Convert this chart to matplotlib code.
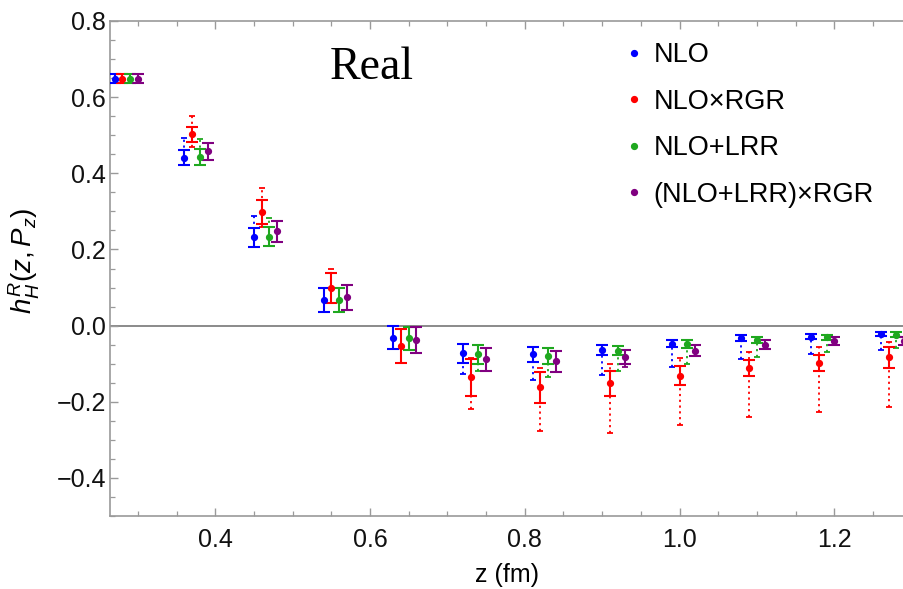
import numpy as np
import matplotlib
matplotlib.use("Agg")
import matplotlib.pyplot as plt
from matplotlib.lines import Line2D
from matplotlib.ticker import MultipleLocator, FuncFormatter

plt.rcParams["font.family"] = ["Liberation Sans", "DejaVu Sans"]
plt.rcParams["mathtext.fontset"] = "custom"
plt.rcParams["mathtext.it"] = "Liberation Sans:italic"
plt.rcParams["mathtext.rm"] = "Liberation Sans"

# separations z (fm); each series is shifted slightly to the right
z_base = np.array([0.27, 0.36, 0.45, 0.54, 0.63, 0.72, 0.81, 0.90, 0.99, 1.08, 1.17, 1.26])
shift = [0.0, 0.01, 0.02, 0.03]

labels = ["NLO", "NLO×RGR", "NLO+LRR", "(NLO+LRR)×RGR"]
colors = ["#0000ff", "#ff0000", "#1fa81f", "#800080"]

# central values
nlo_val = [0.648, 0.441, 0.232, 0.068, -0.032, -0.073, -0.075, -0.064, -0.048, -0.033, -0.029, -0.022]
rgr_val = [0.648, 0.502, 0.298, 0.099, -0.053, -0.136, -0.162, -0.152, -0.132, -0.111, -0.097, -0.083]
lrr_val = [0.648, 0.443, 0.234, 0.068, -0.033, -0.075, -0.079, -0.066, -0.048, -0.038, -0.031, -0.024]
both_val = [0.648, 0.458, 0.248, 0.074, -0.038, -0.088, -0.094, -0.082, -0.066, -0.050, -0.041, -0.040]

# statistical errors (solid bars)
nlo_err = [0.012, 0.020, 0.025, 0.032, 0.030, 0.024, 0.020, 0.013, 0.009, 0.008, 0.006, 0.006]
rgr_err = [0.012, 0.020, 0.032, 0.040, 0.045, 0.048, 0.041, 0.033, 0.025, 0.021, 0.021, 0.027]
lrr_err = [0.012, 0.020, 0.025, 0.031, 0.030, 0.025, 0.021, 0.012, 0.010, 0.007, 0.006, 0.006]
both_err = [0.012, 0.022, 0.028, 0.033, 0.034, 0.030, 0.028, 0.018, 0.015, 0.012, 0.011, 0.010]

# systematic band ends (dotted bars): lower and upper limits
nlo_lo = [0.636, 0.421, 0.207, 0.036, -0.062, -0.126, -0.142, -0.129, -0.108, -0.088, -0.075, -0.063]
nlo_hi = [0.660, 0.493, 0.289, 0.100, -0.002, -0.049, -0.055, -0.051, -0.039, -0.025, -0.023, -0.016]
rgr_lo = [0.636, 0.469, 0.260, 0.059, -0.098, -0.219, -0.276, -0.281, -0.261, -0.241, -0.226, -0.215]
rgr_hi = [0.660, 0.550, 0.362, 0.149, -0.008, -0.085, -0.110, -0.101, -0.086, -0.068, -0.055, -0.044]
lrr_lo = [0.636, 0.423, 0.209, 0.037, -0.063, -0.120, -0.134, -0.120, -0.101, -0.083, -0.068, -0.059]
lrr_hi = [0.660, 0.489, 0.283, 0.099, -0.003, -0.050, -0.058, -0.054, -0.038, -0.031, -0.025, -0.018]
both_lo = [0.636, 0.436, 0.220, 0.041, -0.072, -0.118, -0.122, -0.109, -0.081, -0.062, -0.052, -0.050]
both_hi = [0.660, 0.480, 0.276, 0.107, -0.004, -0.058, -0.066, -0.064, -0.051, -0.038, -0.030, -0.030]

series = [
    (nlo_val, nlo_err, nlo_lo, nlo_hi),
    (rgr_val, rgr_err, rgr_lo, rgr_hi),
    (lrr_val, lrr_err, lrr_lo, lrr_hi),
    (both_val, both_err, both_lo, both_hi),
]

W, H = 904, 589
fig = plt.figure(figsize=(W / 100, H / 100), dpi=100)
ax = fig.add_axes([110 / W, 1 - 516 / H, (W - 110) / W, (516 - 21) / H])

ax.axhline(0.0, color="#8a8a8a", lw=1.4, zorder=1)

for k, (val, err, lo, hi) in enumerate(series):
    x = z_base + shift[k]
    v = np.array(val)
    yerr_sys = [v - np.array(lo), np.array(hi) - v]
    eb = ax.errorbar(x, v, yerr=yerr_sys, fmt="none", ecolor=colors[k],
                     elinewidth=1.3, capsize=2.2, capthick=1.3, zorder=2)
    for coll in eb[2]:
        coll.set_linestyle((0, (1.2, 2.0)))
    ax.errorbar(x, v, yerr=err, fmt="o", color=colors[k], ms=4.2,
                elinewidth=1.5, capsize=4.4, capthick=1.5, zorder=3)

ax.set_xlim(0.264, 1.29)
ax.set_ylim(-0.5, 0.8)


def tick_fmt(v, pos):
    s = f"{v:.1f}"
    if s == "-0.0":
        s = "0.0"
    return s.replace("-", "\u2212")


ax.xaxis.set_major_locator(MultipleLocator(0.2))
ax.xaxis.set_minor_locator(MultipleLocator(0.05))
ax.yaxis.set_major_locator(MultipleLocator(0.2))
ax.yaxis.set_minor_locator(MultipleLocator(0.05))
ax.xaxis.set_major_formatter(FuncFormatter(tick_fmt))
ax.yaxis.set_major_formatter(FuncFormatter(tick_fmt))

frame_col = "#9a9a9a"
for side in ["left", "bottom", "top"]:
    ax.spines[side].set_color(frame_col)
    ax.spines[side].set_linewidth(1.2)
ax.spines["right"].set_visible(False)

ax.tick_params(which="both", direction="in", top=True, right=False,
               color=frame_col, labelsize=18, labelcolor="#111111")
ax.tick_params(which="major", length=6, width=1.0)
ax.tick_params(which="minor", length=3.5, width=0.9)
ax.tick_params(axis="x", which="major", pad=8.5)
ax.tick_params(axis="y", which="major", pad=3)

ax.set_xlabel("z (fm)", fontsize=18, labelpad=8)
ax.set_ylabel(r"$h^{R}_{H}(z,P_{z})$", fontsize=20)
ax.yaxis.set_label_coords(-0.086, 0.515)

ax.text(0.33, 0.905, "Real", transform=ax.transAxes, fontsize=33,
        family="Liberation Serif", ha="center", va="center")

handles = [Line2D([], [], ls="none", marker="o", ms=4.2, color=c) for c in colors]
ax.legend(handles, labels, loc="upper left", bbox_to_anchor=(0.640, 0.979),
          frameon=False, fontsize=19.5, handlelength=0.4, handletextpad=0.5,
          labelspacing=0.76, borderaxespad=0.0)

fig.savefig("out.png", dpi=100)
